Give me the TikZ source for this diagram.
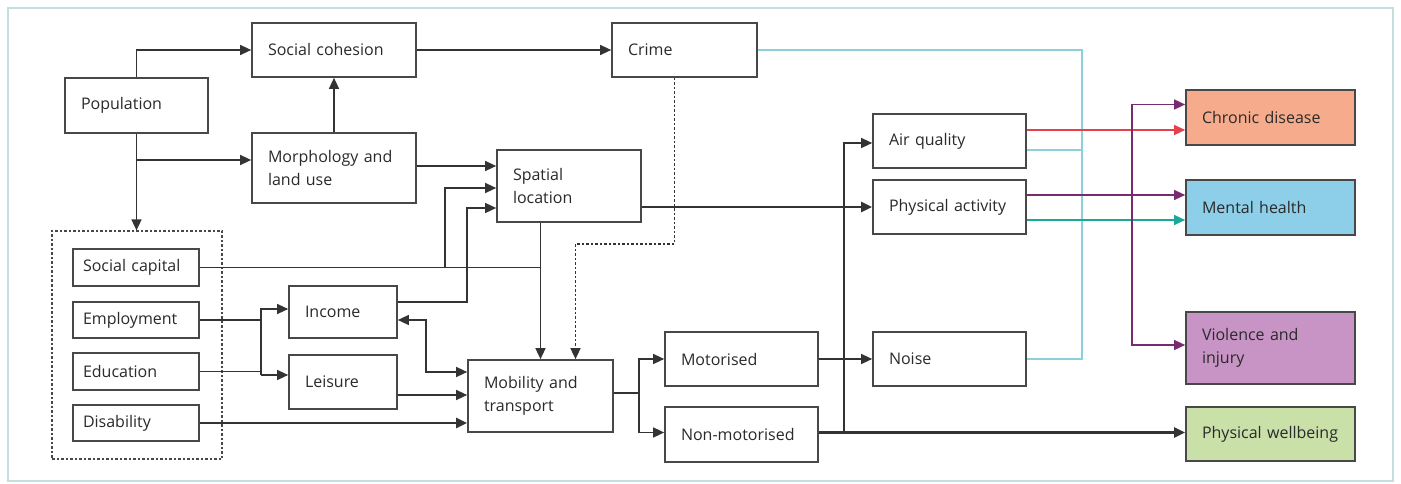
\documentclass[tikz,border=0pt]{standalone}
\usepackage{fontspec}
\setmainfont{Open Sans}
\usetikzlibrary{arrows.meta}
\definecolor{framec}{HTML}{C6DEDF}
\definecolor{boxc}{HTML}{484848}
\definecolor{linec}{HTML}{333333}
\definecolor{txt}{HTML}{2A2A2A}
\definecolor{redc}{HTML}{E5404C}
\definecolor{purc}{HTML}{7A2B6F}
\definecolor{tealc}{HTML}{1AA89A}
\definecolor{cyc}{HTML}{8CD0DA}
\definecolor{chrf}{HTML}{F6AC8C}
\definecolor{menf}{HTML}{8DCFE8}
\definecolor{viof}{HTML}{C893C5}
\definecolor{pwbf}{HTML}{C9E0A9}
\begin{document}
\begin{tikzpicture}[x=1pt,y=-1pt,
  every node/.style={font=\fontsize{16}{23}\selectfont, text=txt},
  box/.style={draw=boxc, line width=1.7pt, inner xsep=16pt, inner ysep=0pt, align=left, rectangle, fill=white},
  sbox/.style={box, inner xsep=10pt},
  ln/.style={draw=linec, line width=1.5pt},
  arr/.style={ln, -{Triangle[length=11pt,width=10pt]}},
  arrT/.style={arr, line width=2.2pt},
  arr2/.style={ln, {Triangle[length=11pt,width=10pt]}-{Triangle[length=11pt,width=10pt]}},
  cy/.style={draw=cyc, line width=1.7pt},
  grpbox/.style={draw=boxc, line width=1.2pt, dash pattern=on 2.5pt off 2pt, rectangle, inner sep=0pt}
]
\useasboundingbox (0,0) rectangle (1401,484);
\draw[draw=framec, line width=1.6pt] (8,8) rectangle (1393,481);

\node[grpbox, minimum width=170pt, minimum height=228pt] (grp) at (137,345) {};

\node[box, minimum width=143pt, minimum height=55pt, text width=111pt] (pop) at (136.5,105.5) {Population};
\node[box, minimum width=164pt, minimum height=54pt, text width=132pt] (soc) at (334,50) {Social cohesion};
\node[box, minimum width=164pt, minimum height=70pt, text width=132pt] (morph) at (334,168) {\mbox{Morphology and}\\land use};
\node[box, minimum width=145pt, minimum height=54pt, text width=113pt] (crime) at (684.5,50) {Crime};
\node[box, minimum width=144pt, minimum height=72pt, text width=112pt] (spat) at (569,186) {Spatial\\location};

\node[sbox, minimum width=126pt, minimum height=37pt, text width=106pt] (scap) at (136,267.5) {Social capital};
\node[sbox, minimum width=126pt, minimum height=36pt, text width=106pt] (emp) at (136,320) {Employment};
\node[sbox, minimum width=126pt, minimum height=37pt, text width=106pt] (edu) at (136,371.5) {Education};
\node[sbox, minimum width=126pt, minimum height=36pt, text width=106pt] (dis) at (136,423) {Disability};

\node[box, minimum width=108pt, minimum height=52pt, text width=76pt] (inc) at (343,312) {Income};
\node[box, minimum width=108pt, minimum height=54pt, text width=76pt] (lei) at (343,382) {Leisure};
\node[box, minimum width=145pt, minimum height=72pt, text width=113pt] (mob) at (540.5,396) {\mbox{Mobility and}\\transport};
\node[box, minimum width=153pt, minimum height=54pt, text width=121pt] (mot) at (741.5,359) {Motorised};
\node[box, minimum width=153pt, minimum height=55pt, text width=121pt] (non) at (741.5,434.5) {Non-motorised};

\node[box, minimum width=153pt, minimum height=54pt, text width=121pt] (air) at (949.5,141) {Air quality};
\node[box, minimum width=153pt, minimum height=54pt, text width=121pt] (pa) at (949.5,207) {Physical activity};
\node[box, minimum width=153pt, minimum height=54pt, text width=121pt] (noise) at (949.5,359) {Noise};

\node[box, fill=chrf, minimum width=169pt, minimum height=55pt, text width=137pt] (chr) at (1270.5,117.5) {Chronic disease};
\node[box, fill=menf, minimum width=169pt, minimum height=55pt, text width=137pt] (men) at (1270.5,207.5) {Mental health};
\node[box, fill=viof, minimum width=169pt, minimum height=72pt, text width=137pt] (vio) at (1270.5,348) {Violence and\\injury};
\node[box, fill=pwbf, minimum width=169pt, minimum height=54pt, text width=137pt] (pwb) at (1270.5,434) {\mbox{Physical wellbeing}};

% population links
\draw[arr] (pop.north) |- (soc.west);
\draw[arr] (pop.south) -- (pop.south |- grp.north);
\draw[arr] ([yshift=8pt]morph.west -| pop.south) -- ([yshift=8pt]morph.west);
\draw[arr] (morph.north) -- (soc.south);
\draw[arr] (soc.east) -- (crime.west);
\draw[arr] ([yshift=2pt]morph.east) -- ([yshift=2pt]morph.east -| spat.west);

% social capital
\coordinate (jSC) at ([xshift=245pt]scap.east);
\draw[ln] (scap.east) -- (scap.east -| mob.north);
\draw[arr] (jSC) |- ([yshift=-2pt]spat.west);

% income to spatial
\draw[arr] ([yshift=10pt]inc.east) -- ([yshift=10pt]inc.east -| mob.west) |- ([yshift=-22pt]spat.west);

% spatial to mobility, crime to mobility
\draw[arr] (mob.north |- spat.south) -- (mob.north);
\draw[arr, dash pattern=on 2.5pt off 2pt] ([xshift=-10pt]crime.south) -- ++(0,166) -| ([xshift=35pt]mob.north);

% employment, education
\coordinate (jE) at ([xshift=-27pt]inc.west);
\draw[ln] (emp.east) -- (emp.east -| jE);
\draw[ln] (edu.east) -- (edu.east -| jE);
\draw[arr] ([yshift=7pt]lei.west -| jE) -- ([yshift=3pt]inc.west -| jE) -- ([yshift=3pt]inc.west);
\draw[arr] ([yshift=7pt]lei.west -| jE) -- ([yshift=7pt]lei.west);

% income <-> mobility, leisure, disability
\draw[arr2] ([yshift=-8pt]inc.east) -- ++(28,0) |- ([yshift=24pt]mob.west);
\draw[arr] ([yshift=-13pt]lei.east) -- ([yshift=-13pt]lei.east -| mob.west);
\draw[arrT] (dis.east) -- (dis.east -| mob.west);

% mobility to modes
\coordinate (jM) at ([xshift=25pt,yshift=3pt]mob.east);
\draw[ln] ([yshift=3pt]mob.east) -- (jM);
\draw[arr] (jM) |- (mot.west);
\draw[arr] (jM) |- ([yshift=2pt]non.west);
\draw[arr] (mot.east) -- (noise.west);
\draw[arrT] ([yshift=2pt]non.east) -- ([yshift=2pt]non.east -| pwb.west);
\coordinate (jN) at ([xshift=25pt,yshift=2pt]non.east);
\draw[arr] (jN) |- ([yshift=-2pt]air.west);
\draw[arrT] ([yshift=-21pt]spat.east) -- (pa.west);

% cyan grouping line
\draw[cy] (crime.east) -| ([xshift=55pt]noise.east) -- (noise.east);
\draw[cy] ([yshift=-9pt]air.east) -- ([xshift=55pt,yshift=-9pt]air.east);

% coloured outcome arrows
\draw[arr, draw=redc] ([yshift=11pt]air.east) -- ([yshift=11pt]air.east -| chr.west);
\draw[arr, draw=purc] ([yshift=12pt]pa.east) -- ([yshift=12pt]pa.east -| men.west);
\draw[arr, draw=tealc] ([yshift=-13pt]pa.east) -- ([yshift=-13pt]pa.east -| men.west);
\coordinate (jP) at ([xshift=-53pt]men.west);
\draw[arr, draw=purc] ([yshift=13pt]chr.west -| jP) -- ([yshift=13pt]chr.west);
\draw[arr, draw=purc] ([yshift=13pt]chr.west -| jP) |- ([yshift=3pt]vio.west);
\end{tikzpicture}
\end{document}
